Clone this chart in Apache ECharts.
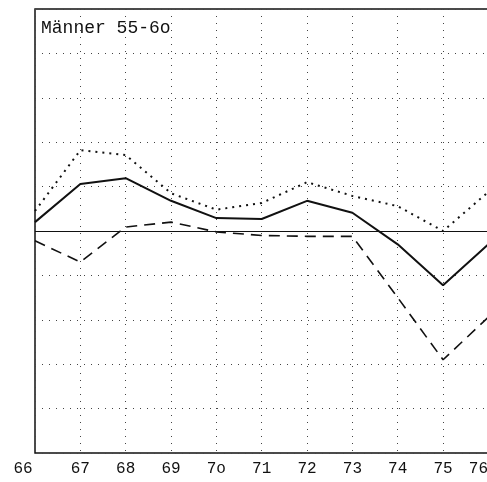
<!DOCTYPE html>
<html>
<head>
<meta charset="utf-8">
<script src="https://cdn.jsdelivr.net/npm/echarts@6/dist/echarts.min.js"></script>
<style>
  html, body { margin: 0; padding: 0; background: #fff; overflow: hidden; }
  #chart { width: 491px; height: 482px; }
</style>
</head>
<body>
<div id="chart"></div>
<script>
// years on the x axis, deviations
const years = [66, 67, 68, 69, 70, 71, 72, 73, 74, 75, 76];
const yearLabels = ['66', '67', '68', '69', '7o', '71', '72', '73', '74', '75', '76'];
const solidValues = [0.2, 1.06, 1.19, 0.68, 0.29, 0.27, 0.68, 0.41, -0.3, -1.22, -0.3];
const dottedValues = [0.45, 1.82, 1.71, 0.85, 0.48, 0.63, 1.1, 0.79, 0.56, 0, 0.88];
const dashedValues = [-0.22, -0.7, 0.09, 0.2, -0.02, -0.1, -0.12, -0.12, -1.5, -2.9, -1.94];

const font = 'Liberation Mono';
const pair = (vals) => years.map((y, i) => [y, vals[i]]);

var myChart = echarts.init(document.getElementById('chart'));
myChart.setOption({
    animation: false,
    title: {
        text: 'Männer 55-6o',
        left: 36,
        top: 14,
        textStyle: { fontFamily: font, fontSize: 18, fontWeight: 'normal', color: '#111' }
    },
    grid: {
        left: 35, right: 2, top: 9, bottom: 29,
        show: true, borderColor: '#111', borderWidth: 1.5
    },
    xAxis: {
        type: 'value',
        min: 66, max: 76, interval: 1,
        axisLine: { show: false },
        axisTick: { show: false },
        axisLabel: {
            margin: 8,
            fontFamily: font,
            fontSize: 16,
            color: '#111',
            formatter(val) {
                const s = yearLabels[years.indexOf(val)];
                if (val === 66) return '{l|' + s + '}';
                if (val === 76) return '{r|' + s + '}';
                return s;
            },
            rich: {
                l: { fontFamily: font, fontSize: 16, color: '#111', padding: [0, 24, 0, 0] },
                r: { fontFamily: font, fontSize: 16, color: '#111', padding: [0, 20, 0, 0] }
            }
        },
        splitLine: { show: true, lineStyle: { color: '#444', width: 1, type: [1, 6] } }
    },
    yAxis: {
        type: 'value',
        min: -5, max: 5, interval: 1,
        axisLine: { show: false },
        axisTick: { show: false },
        axisLabel: { show: false },
        splitLine: { show: true, lineStyle: { color: '#444', width: 1, type: [1, 6] } }
    },
    series: [
        {
            name: 'solid',
            type: 'line',
            data: pair(solidValues),
            symbol: 'none',
            lineStyle: { color: '#111', width: 2 },
            markLine: {
                silent: true,
                symbol: 'none',
                label: { show: false },
                lineStyle: { color: '#111', width: 1.2, type: 'solid' },
                data: [{ yAxis: 0 }]
            }
        },
        {
            name: 'dotted',
            type: 'line',
            data: pair(dottedValues),
            symbol: 'none',
            lineStyle: { color: '#111', width: 2, type: [2, 5] }
        },
        {
            name: 'dashed',
            type: 'line',
            data: pair(dashedValues),
            symbol: 'none',
            lineStyle: { color: '#111', width: 1.6, type: [11, 7] }
        }
    ]
});
</script>
</body>
</html>
